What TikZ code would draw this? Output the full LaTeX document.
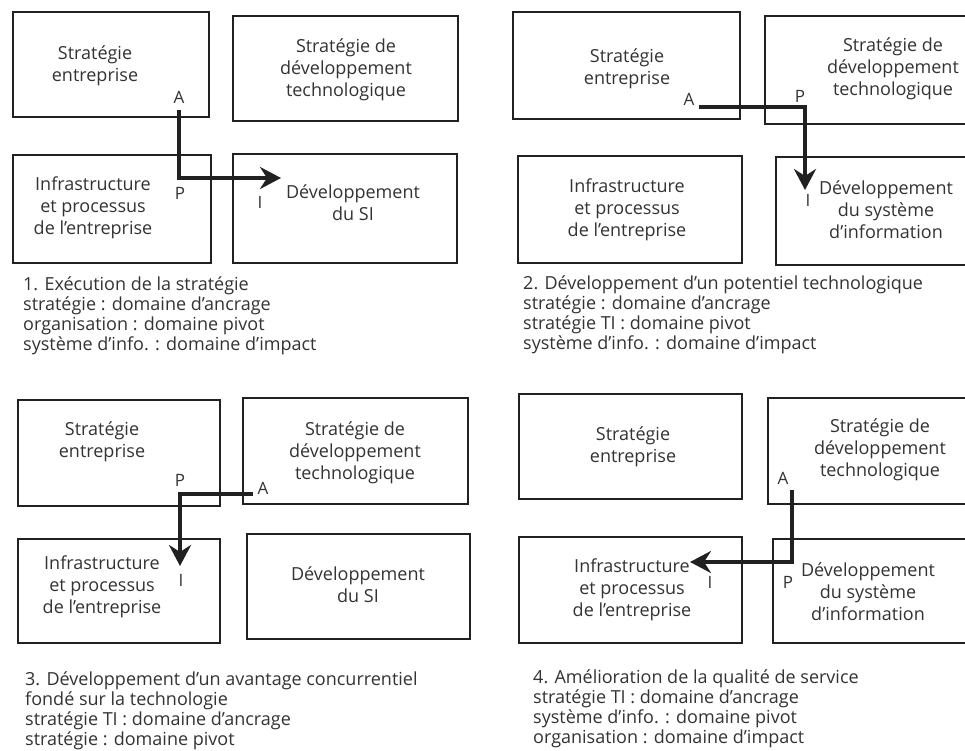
\documentclass[tikz,border=0pt]{standalone}
\usepackage{fontspec}
\setmainfont{Open Sans}
\usetikzlibrary{arrows.meta}

\definecolor{ink}{rgb}{0.2,0.2,0.2}
\definecolor{boxline}{rgb}{0.13,0.13,0.13}

% a framed domain box given by its top-left and bottom-right corners
\newcommand\pbox[5]{%
  \node[frame, anchor=north west, minimum width={(#4)-(#2)}, minimum height={(#5)-(#3)}] (#1) at (#2,#3) {};}

\begin{document}
\begin{tikzpicture}[x=1pt,y=-1pt,
  frame/.style={draw=boxline, line width=1.9pt, inner sep=0pt, outer sep=0pt},
  boxtext/.style={align=center, font=\fontsize{18}{22}\selectfont, text=ink, inner sep=0pt},
  tag/.style={font=\fontsize{17}{17}\selectfont, text=ink, inner sep=0pt},
  caption/.style={align=left, anchor=north west, font=\fontsize{18}{20}\selectfont, text=ink, inner sep=0pt},
  flow/.style={draw=boxline, line width=4pt, line join=miter, -{Stealth[length=21pt,width=22pt,inset=7pt]}}
]
\clip (0,0) rectangle (965,751);
\fill[white] (0,0) rectangle (965,751);

% ---------- 1. Exécution de la stratégie ----------
\pbox{ase}{13}{12}{209}{117}
\pbox{asdt}{233}{16}{458}{121}
\pbox{ainf}{13}{155}{211}{263}
\pbox{adev}{233}{154}{457}{263}
\node[boxtext] (asetx) at (95,66) {Stratégie\\entreprise};
\node[boxtext] (asdttx) at (346,70) {Stratégie de\\développement\\technologique};
\node[boxtext] (ainftx) at (93,208) {Infrastructure\\et processus\\de l’entreprise};
\node[boxtext] (adevtx) at (353,203) {Développement\\du SI};
\node[tag] (aA) at (179,97) {A};
\node[tag] (aP) at (180,193) {P};
\node[tag] (aI) at (260,202) {I};
\coordinate (as) at (179,110);
\coordinate (ae) at (281,178);
\draw[flow] (as) |- (ae);
\node[caption] (acap) at (23,273) {\rule{0pt}{17pt}1. Exécution de la stratégie\\stratégie : domaine d’ancrage\\organisation : domaine pivot\\système d’info. : domaine d’impact};

% ---------- 2. Développement d'un potentiel technologique ----------
\pbox{bse}{513}{12}{740}{119}
\pbox{bsdt}{765}{16}{975}{124}
\pbox{binf}{518}{156}{742}{263}
\pbox{bdev}{776}{157}{975}{265}
\node[boxtext] (bsetx) at (627,69) {Stratégie\\entreprise};
\node[boxtext] (bsdttx) at (893,69) {Stratégie de\\développement\\technologique};
\node[boxtext] (binftx) at (627,210) {Infrastructure\\et processus\\de l’entreprise};
\node[boxtext] (bdevtx) at (886,210) {Développement\\du système\\d’information};
\node[tag] (bA) at (689,99) {A};
\node[tag] (bP) at (800,96) {P};
\node[tag] (bI) at (808,200) {I};
\coordinate (bs) at (699,107);
\coordinate (be) at (805,190);
\draw[flow] (bs) -| (be);
\node[caption] (bcap) at (523,272) {\rule{0pt}{17pt}2. Développement d’un potentiel technologique\\stratégie : domaine d’ancrage\\stratégie TI : domaine pivot\\système d’info. : domaine d’impact};

% ---------- 3. Avantage concurrentiel ----------
\pbox{cse}{18}{400}{220}{506}
\pbox{csdt}{243}{398}{468}{504}
\pbox{cinf}{18}{539}{220}{643}
\pbox{cdev}{247}{534}{470}{639}
\node[boxtext] (csetx) at (102,442) {Stratégie\\entreprise};
\node[boxtext] (csdttx) at (355,453) {Stratégie de\\développement\\technologique};
\node[boxtext] (cinftx) at (102,587) {Infrastructure\\et processus\\de l’entreprise};
\node[boxtext] (cdevtx) at (358,585) {Développement\\du SI};
\node[tag] (cA) at (263,488) {A};
\node[tag] (cP) at (180,480) {P};
\node[tag] (cI) at (181,580) {I};
\coordinate (cs) at (253,494);
\coordinate (ce) at (180,566);
\draw[flow] (cs) -| (ce);
\node[caption] (ccap) at (25,668) {\rule{0pt}{17pt}3. Développement d’un avantage concurrentiel\\fondé sur la technologie\\stratégie TI : domaine d’ancrage\\stratégie : domaine pivot};

% ---------- 4. Amélioration de la qualité de service ----------
\pbox{dse}{519}{394}{742}{499}
\pbox{dsdt}{768}{398}{975}{504}
\pbox{dinf}{519}{537}{742}{643}
\pbox{ddev}{773}{539}{975}{643}
\node[boxtext] (dsetx) at (633,447) {Stratégie\\entreprise};
\node[boxtext] (dsdttx) at (880,450) {Stratégie de\\développement\\technologique};
\node[boxtext] (dinftx) at (632,590) {Infrastructure\\et processus\\de l’entreprise};
\node[boxtext] (ddevtx) at (868,592) {Développement\\du système\\d’information};
\node[tag] (dA) at (783,478) {A};
\node[tag] (dP) at (788,582) {P};
\node[tag] (dI) at (710,582) {I};
\coordinate (ds) at (792,490);
\coordinate (de) at (690,562);
\draw[flow] (ds) |- (de);
\node[caption] (dcap) at (533,666) {\rule{0pt}{17pt}4. Amélioration de la qualité de service\\stratégie TI : domaine d’ancrage\\système d’info. : domaine pivot\\organisation : domaine d’impact};
\end{tikzpicture}
\end{document}
